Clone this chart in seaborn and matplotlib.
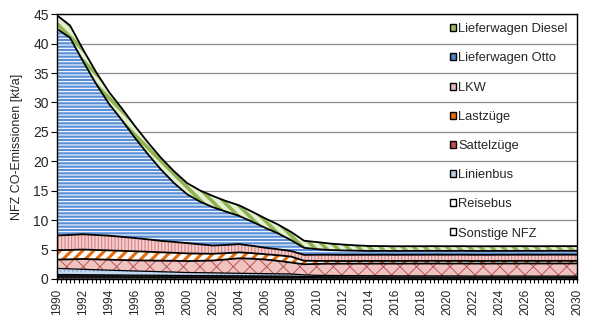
import matplotlib
matplotlib.use("Agg")
import matplotlib.pyplot as plt
from matplotlib.patches import Patch
from matplotlib.ticker import MultipleLocator
import numpy as np
import seaborn as sns

sns.set_theme(style="white")
plt.rcParams['font.family'] = ['Liberation Sans', 'DejaVu Sans']

years = list(range(1990, 2031))

sonstige = [0.35, 0.35, 0.34, 0.33, 0.32, 0.31, 0.30, 0.30, 0.29, 0.28,
            0.27, 0.27, 0.26, 0.26, 0.25, 0.25, 0.24, 0.24, 0.23,
            0.22, 0.21, 0.21, 0.20, 0.20, 0.20, 0.20, 0.19, 0.19, 0.19, 0.19,
            0.18, 0.18, 0.18, 0.18, 0.18, 0.18, 0.18, 0.18, 0.18, 0.18, 0.18]
reisebus = [0.40, 0.40, 0.39, 0.38, 0.37, 0.36, 0.35, 0.34, 0.33, 0.32,
            0.31, 0.30, 0.30, 0.29, 0.29, 0.28, 0.27, 0.26, 0.25,
            0.20, 0.18, 0.17, 0.17, 0.16, 0.16, 0.16, 0.15, 0.15, 0.15, 0.15,
            0.15, 0.15, 0.14, 0.14, 0.14, 0.14, 0.14, 0.14, 0.14, 0.14, 0.14]
linienbus = [1.05, 0.97, 0.92, 0.86, 0.81, 0.76, 0.71, 0.66, 0.61, 0.57,
             0.52, 0.50, 0.48, 0.45, 0.43, 0.41, 0.40, 0.38, 0.37,
             0.28, 0.23, 0.22, 0.21, 0.21, 0.20, 0.20, 0.20, 0.20, 0.19, 0.19,
             0.19, 0.19, 0.18, 0.18, 0.18, 0.18, 0.18, 0.17, 0.17, 0.17, 0.17]
sattelzuege = [1.50, 1.62, 1.75, 1.77, 1.78, 1.79, 1.80, 1.84, 1.88, 1.92,
               1.95, 2.02, 2.10, 2.32, 2.55, 2.50, 2.40, 2.20, 1.95,
               1.80, 1.95, 2.00, 2.02, 2.04, 2.05, 2.06, 2.07, 2.08, 2.09, 2.10,
               2.10, 2.11, 2.12, 2.12, 2.13, 2.13, 2.14, 2.14, 2.15, 2.15, 2.15]
lastzuege = [1.60, 1.60, 1.60, 1.59, 1.58, 1.56, 1.55, 1.49, 1.42, 1.36,
             1.30, 1.22, 1.15, 1.07, 1.00, 0.95, 0.90, 0.95, 1.00,
             0.60, 0.50, 0.47, 0.45, 0.45, 0.45, 0.45, 0.45, 0.45, 0.45, 0.45,
             0.45, 0.45, 0.44, 0.44, 0.44, 0.44, 0.44, 0.44, 0.44, 0.44, 0.44]
lkw = [2.50, 2.55, 2.60, 2.55, 2.50, 2.38, 2.25, 2.10, 1.95, 1.85,
       1.75, 1.58, 1.40, 1.40, 1.40, 1.25, 1.10, 1.02, 0.95,
       1.00, 1.05, 1.05, 1.05, 1.05, 1.05, 1.05, 1.05, 1.05, 1.05, 1.05,
       1.05, 1.05, 1.05, 1.05, 1.05, 1.05, 1.05, 1.05, 1.05, 1.05, 1.05]
lw_otto = [35.1, 33.5, 29.4, 25.7, 22.4, 19.8, 17.0, 14.45, 12.1, 10.0,
           8.3, 7.25, 6.5, 5.65, 4.8, 4.1, 3.4, 2.7, 1.85,
           1.2, 0.95, 0.80, 0.75, 0.70, 0.65, 0.65, 0.65, 0.65, 0.65, 0.65,
           0.65, 0.65, 0.65, 0.65, 0.65, 0.65, 0.65, 0.65, 0.65, 0.65, 0.65]
lw_diesel = [2.3, 2.1, 2.0, 2.0, 2.0, 2.0, 2.0, 2.0, 2.0, 2.0,
             1.9, 1.9, 1.9, 1.8, 1.8, 1.7, 1.6, 1.5, 1.4,
             1.2, 1.2, 1.1, 1.0, 0.9, 0.85, 0.82, 0.80, 0.80, 0.80, 0.80,
             0.80, 0.80, 0.80, 0.80, 0.80, 0.80, 0.80, 0.80, 0.80, 0.80, 0.80]

names = ["Sonstige NFZ", "Reisebus", "Linienbus", "Sattelzüge", "Lastzüge",
         "LKW", "Lieferwagen Otto", "Lieferwagen Diesel"]
series = [sonstige, reisebus, linienbus, sattelzuege, lastzuege, lkw, lw_otto, lw_diesel]

# face, hatch colour, hatch, hatch linewidth, legend colour
styles = [
    ("#3a3a3a", "#8a8a8a", "....", 0.6, "white"),
    ("#1e1e1e", "#6f7f8f", "...", 0.6, "white"),
    ("#c6d9f1", "#7fa6d6", "....", 0.6, "#b9cde5"),
    ("#efc3c2", "#b85550", "xx", 0.7, "#c0504d"),
    ("white", "#e46c0a", "///", 2.2, "#e46c0a"),
    ("#f4cccc", "#d27a78", "|||||", 0.7, "#e6b9b8"),
    ("#5a8fd6", "white", "-----", 0.8, "#4f81bd"),
    ("#e4efd2", "#8fb350", "\\\\\\", 2.6, "#9bbb59"),
]

fig = plt.figure(figsize=(6.0, 3.29), dpi=100)
ax = fig.add_axes([0.095, 0.152, 0.867, 0.805])

x = np.array(years)
base = np.zeros(len(years))
tops = []
for vals, (fc, hc, hatch, hlw, _) in zip(series, styles):
    top = base + np.array(vals)
    with plt.rc_context({'hatch.linewidth': hlw}):
        ax.fill_between(x, base, top, facecolor=fc, edgecolor=hc, hatch=hatch,
                        linewidth=0, zorder=2)
    tops.append(top)
    base = top

for i, top in enumerate(tops):
    sns.lineplot(x=x, y=top, color="black", linewidth=1.3 if i >= 3 else 0.9,
                 ax=ax, zorder=3)

ax.set_xlim(1990, 2030)
ax.set_ylim(0, 45)
ax.xaxis.set_major_locator(MultipleLocator(2))
ax.xaxis.set_minor_locator(MultipleLocator(1 / 3))
ax.yaxis.set_major_locator(MultipleLocator(5))
ax.grid(axis="y", color="#8c8c8c", linewidth=0.9, zorder=1)
ax.set_axisbelow(True)
for sp in ax.spines.values():
    sp.set_color("black")
    sp.set_linewidth(1.0)
    sp.set_zorder(4)
ax.tick_params(axis="x", which="both", direction="out", length=3, width=0.8,
               color="black", bottom=True, labelsize=8.5, rotation=90, pad=4)
ax.tick_params(axis="y", which="major", direction="out", length=4, width=0.8,
               color="black", left=True, labelsize=10, pad=2)
ax.set_ylabel("NFZ CO-Emissionen [kt/a]", fontsize=9, labelpad=7)
ax.set_xlabel("")

handles = [Patch(facecolor=st[4], edgecolor="black", linewidth=1.0, label=n)
           for n, st in zip(names, styles)][::-1]
leg = ax.legend(handles=handles, loc="upper left", bbox_to_anchor=(0.745, 0.985),
                frameon=False, fontsize=9.3, handlelength=0.45, handleheight=0.45,
                handletextpad=0.2, labelspacing=1.33, borderaxespad=0)
leg.set_zorder(5)

fig.savefig("out.png", dpi=100)
